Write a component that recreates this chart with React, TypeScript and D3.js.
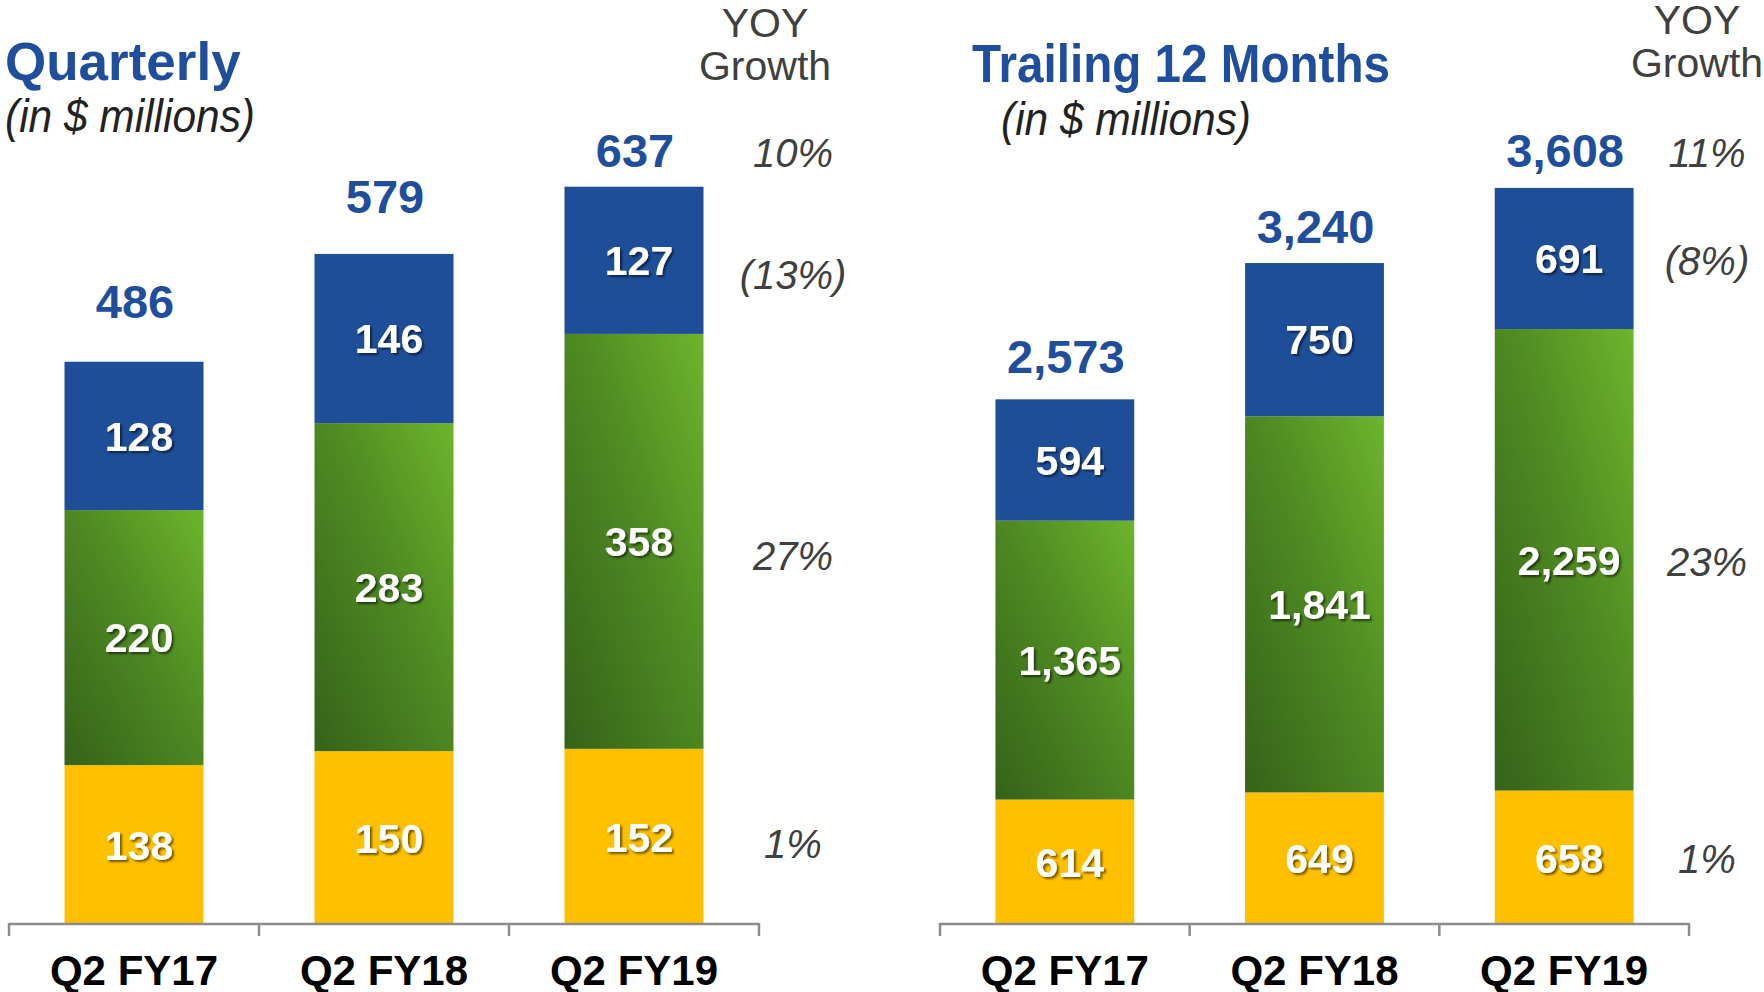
import React from "react";
import * as d3 from "d3";

const categories = ["Q2 FY17", "Q2 FY18", "Q2 FY19"];

const quarterlyYellow = [138, 150, 152];
const quarterlyGreen = [220, 283, 358];
const quarterlyBlue = [128, 146, 127];
const quarterlyTotal = [486, 579, 637];
const quarterlyYoy = ["10%", "(13%)", "27%", "1%"]; // total, blue, green, yellow

const ttmYellow = [614, 649, 658];
const ttmGreen = [1365, 1841, 2259];
const ttmBlue = [594, 750, 691];
const ttmTotal = [2573, 3240, 3608];
const ttmYoy = ["11%", "(8%)", "23%", "1%"];

const FONT = "'Liberation Sans', Arial, Helvetica, sans-serif";
const BLUE = "#1F4E99";
const TITLE_BLUE = "#1F4E9C";
const YELLOW = "#FFC000";
const GRAY_TEXT = "#404040";
const AXIS = "#8C8C8C";

const fmt = d3.format(",");

type Panel = {
  key: string;
  title: string;
  titleX: number;
  titleY: number;
  titleLen?: number;
  subX: number;
  subY: number;
  x0: number;
  x1: number;
  maxV: number;
  topY: number;
  yellow: number[];
  green: number[];
  blue: number[];
  total: number[];
  yoy: string[];
  totalGap: number[];
  yoyX: number;
  yoyDy: number;
  headerX: number;
  headerY: number;
};

const panels: Panel[] = [
  {
    key: "q",
    title: "Quarterly",
    titleX: 5,
    titleY: 80,
    subX: 5,
    subY: 132,
    x0: 9,
    x1: 759,
    maxV: 700,
    topY: 925 - 700 * 1.159,
    yellow: quarterlyYellow,
    green: quarterlyGreen,
    blue: quarterlyBlue,
    total: quarterlyTotal,
    yoy: quarterlyYoy,
    totalGap: [44, 41, 20],
    yoyX: 793,
    yoyDy: 14,
    headerX: 765,
    headerY: 37,
  },
  {
    key: "t",
    title: "Trailing 12 Months",
    titleX: 972,
    titleY: 82,
    titleLen: 418,
    subX: 1001,
    subY: 135,
    x0: 940,
    x1: 1689,
    maxV: 3800,
    topY: 925 - 3800 * 0.2043,
    yellow: ttmYellow,
    green: ttmGreen,
    blue: ttmBlue,
    total: ttmTotal,
    yoy: ttmYoy,
    totalGap: [26, 20, 21],
    yoyX: 1707,
    yoyDy: 2,
    headerX: 1697,
    headerY: 34,
  },
];

const BASE_Y = 925;

function PanelView({ p }: { p: Panel }) {
  const x = d3.scaleBand<string>().domain(categories).range([p.x0, p.x1]).padding(0);
  const y = d3.scaleLinear().domain([0, p.maxV]).range([BASE_Y, p.topY]);
  const bw = x.bandwidth() * 0.556;
  const ticks = [...categories.map((c) => x(c) as number), p.x1];
  const last = categories.length - 1;

  const segs = categories.map((c, i) => {
    const cx = (x(c) as number) + x.bandwidth() / 2;
    const y0 = 0;
    const y1 = p.yellow[i];
    const y2 = y1 + p.green[i];
    const y3 = y2 + p.blue[i];
    return { c, cx, i, y0, y1, y2, y3 };
  });

  const lastSeg = segs[last];
  const yoyYs = [
    y(p.total[last]) - p.totalGap[last],
    y((lastSeg.y2 + lastSeg.y3) / 2) + p.yoyDy,
    y((lastSeg.y1 + lastSeg.y2) / 2) + p.yoyDy,
    y((lastSeg.y0 + lastSeg.y1) / 2) + p.yoyDy * 0.5,
  ];

  return (
    <g>
      <text
        x={p.titleX}
        y={p.titleY}
        fontFamily={FONT}
        fontWeight="bold"
        fontSize={53}
        fill={TITLE_BLUE}
        textLength={p.titleLen}
        lengthAdjust="spacingAndGlyphs"
      >
        {p.title}
      </text>
      <text
        x={p.subX}
        y={p.subY}
        fontFamily={FONT}
        fontStyle="italic"
        fontSize={46}
        fill="#222"
        textLength={250}
        lengthAdjust="spacingAndGlyphs"
      >
        (in $ millions)
      </text>
      <text x={p.headerX} y={p.headerY} fontFamily={FONT} fontSize={41} fill={GRAY_TEXT} textAnchor="middle">
        YOY
      </text>
      <text x={p.headerX} y={p.headerY + 43} fontFamily={FONT} fontSize={41} fill={GRAY_TEXT} textAnchor="middle">
        Growth
      </text>

      {segs.map((s) => (
        <g key={s.c}>
          <rect x={s.cx - bw / 2} y={y(s.y1)} width={bw} height={y(s.y0) - y(s.y1)} fill={YELLOW} />
          <rect x={s.cx - bw / 2} y={y(s.y2)} width={bw} height={y(s.y1) - y(s.y2)} fill="url(#greenGrad)" />
          <rect x={s.cx - bw / 2} y={y(s.y3)} width={bw} height={y(s.y2) - y(s.y3)} fill={BLUE} />
          {[
            [s.y0, s.y1, p.yellow[s.i]],
            [s.y1, s.y2, p.green[s.i]],
            [s.y2, s.y3, p.blue[s.i]],
          ].map(([a, b, v], k) => (
            <text
              key={k}
              x={s.cx + 5}
              y={y((a + b) / 2)}
              dy="0.36em"
              textAnchor="middle"
              fontFamily={FONT}
              fontWeight="bold"
              fontSize={41}
              fill="#fff"
              filter="url(#shadow)"
            >
              {fmt(v)}
            </text>
          ))}
          <text
            x={s.cx + 1}
            y={y(p.total[s.i]) - p.totalGap[s.i]}
            textAnchor="middle"
            fontFamily={FONT}
            fontWeight="bold"
            fontSize={47}
            fill={TITLE_BLUE}
          >
            {fmt(p.total[s.i])}
          </text>
          <text
            x={s.cx}
            y={985}
            textAnchor="middle"
            fontFamily={FONT}
            fontWeight="bold"
            fontSize={42}
            fill="#000"
          >
            {s.c}
          </text>
        </g>
      ))}

      {p.yoy.map((t, k) => (
        <text
          key={k}
          x={p.yoyX}
          y={yoyYs[k]}
          dy={k === 0 ? 0 : "0.36em"}
          textAnchor="middle"
          fontFamily={FONT}
          fontStyle="italic"
          fontSize={40}
          fill={GRAY_TEXT}
        >
          {t}
        </text>
      ))}

      <line x1={p.x0} x2={p.x1} y1={BASE_Y - 1} y2={BASE_Y - 1} stroke={AXIS} strokeWidth={2.5} />
      {ticks.map((t, k) => (
        <line key={k} x1={t} x2={t} y1={BASE_Y - 2} y2={BASE_Y + 11} stroke={AXIS} strokeWidth={2.5} />
      ))}
    </g>
  );
}

export default function App() {
  return (
    <svg
      width={1764}
      height={992}
      style={{ position: "absolute", left: 0, top: 0, background: "#fff" }}
    >
      <defs>
        <linearGradient id="greenGrad" x1="0" y1="1" x2="1" y2="0">
          <stop offset="0%" stopColor="#36621A" />
          <stop offset="55%" stopColor="#4F8A22" />
          <stop offset="100%" stopColor="#6DB52C" />
        </linearGradient>
        <filter id="shadow" x="-20%" y="-20%" width="140%" height="140%">
          <feDropShadow dx="2" dy="2" stdDeviation="1.2" floodColor="#000" floodOpacity="0.55" />
        </filter>
      </defs>
      <rect width={1764} height={992} fill="#fff" />
      {panels.map((p) => (
        <PanelView key={p.key} p={p} />
      ))}
    </svg>
  );
}
